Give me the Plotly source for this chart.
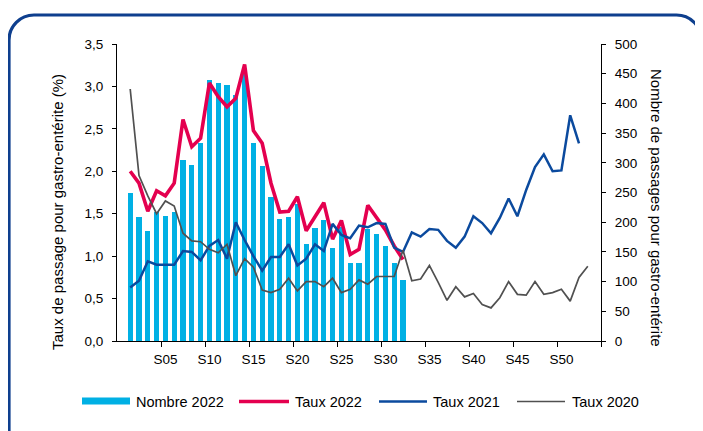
import plotly.graph_objects as go

# ---------------- data ----------------
weeks_2022 = list(range(1, 33))
nombre_2022 = [250, 209, 185, 217, 210, 218, 304, 297, 333, 440, 434, 431, 414, 455, 334, 295,
               242, 205, 208, 231, 163, 191, 203, 156, 192, 132, 132, 189, 180, 160, 132, 102]
taux_2022 = [2.00, 1.86, 1.53, 1.77, 1.71, 1.86, 2.61, 2.29, 2.39, 3.04, 2.88, 2.76, 2.86, 3.26,
             2.48, 2.33, 1.86, 1.52, 1.53, 1.70, 1.30, 1.46, 1.63, 1.20, 1.42, 1.02, 1.08, 1.60,
             1.46, 1.31, 1.12, 0.96]

weeks_2021 = list(range(1, 53))
taux_2021 = [0.63, 0.71, 0.94, 0.90, 0.90, 0.90, 1.06, 1.05, 0.95, 1.12, 1.19, 0.97, 1.40, 1.19,
             1.00, 0.83, 0.99, 0.99, 1.14, 0.89, 0.97, 1.14, 1.06, 1.38, 1.25, 1.21, 1.36, 1.34,
             1.39, 1.38, 1.10, 1.05, 1.28, 1.23, 1.32, 1.31, 1.18, 1.10, 1.23, 1.47, 1.39, 1.27,
             1.45, 1.68, 1.47, 1.78, 2.05, 2.20, 2.00, 2.01, 2.66, 2.33]

weeks_2020 = list(range(1, 54))
taux_2020 = [2.97, 1.95, 1.71, 1.50, 1.65, 1.59, 1.27, 1.18, 1.17, 1.08, 1.04, 1.14, 0.77, 0.97,
             0.87, 0.60, 0.57, 0.61, 0.74, 0.59, 0.70, 0.70, 0.64, 0.74, 0.57, 0.61, 0.72, 0.67,
             0.76, 0.76, 0.76, 1.07, 0.71, 0.73, 0.89, 0.69, 0.48, 0.64, 0.52, 0.56, 0.43, 0.39,
             0.51, 0.70, 0.55, 0.54, 0.70, 0.55, 0.57, 0.61, 0.47, 0.75, 0.88]

tick_weeks = [5, 10, 15, 20, 25, 30, 35, 40, 45, 50]
tick_labels = ["S05", "S10", "S15", "S20", "S25", "S30", "S35", "S40", "S45", "S50"]

legend_names = ["Nombre 2022", "Taux 2022", "Taux 2021", "Taux 2020"]

# ---------------- style ----------------
OFF = 8  # page body margin
W, H = 703 - OFF, 431 - OFF
# plot area in screenshot pixels
SL, SR, ST, SB = 117, 601, 44, 341
L, R, T, B = SL - OFF, SR - OFF, ST - OFF, SB - OFF
C_BAR = "#00B0E4"
C_2022 = "#E4004F"
C_2021 = "#0B4A9E"
C_2020 = "#505050"
C_FRAME = "#0E3F8E"
FONT = "Liberation Sans, Arial, sans-serif"


def px(x):
    return (x - SL) / (SR - SL)


def py(y):
    return (SB - y) / (SB - ST)


fig = go.Figure()
fig.add_trace(go.Bar(x=weeks_2022, y=nombre_2022, name=legend_names[0], marker_color=C_BAR,
                     marker_line_width=0, width=0.6, yaxis="y", showlegend=False))
fig.add_trace(go.Scatter(x=weeks_2022, y=taux_2022, name=legend_names[1], mode="lines",
                         line=dict(color=C_2022, width=3.6), yaxis="y2", showlegend=False))
fig.add_trace(go.Scatter(x=weeks_2021, y=taux_2021, name=legend_names[2], mode="lines",
                         line=dict(color=C_2021, width=2.5), yaxis="y2", showlegend=False))
fig.add_trace(go.Scatter(x=weeks_2020, y=taux_2020, name=legend_names[3], mode="lines",
                         line=dict(color=C_2020, width=1.7), yaxis="y2", showlegend=False))

tickfont = dict(family=FONT, size=13.5, color="#000000")
minor_vals = [w - 0.5 for w in tick_weeks] + [54.5]

fig.update_layout(
    width=W, height=H,
    margin=dict(l=L, r=W - R, t=T, b=H - B),
    paper_bgcolor="white", plot_bgcolor="white",
    separators=", ",
    bargap=0,
    xaxis=dict(range=[-0.5, 54.5], tickmode="array", tickvals=tick_weeks, ticktext=tick_labels,
               ticks="", showline=True, linecolor="black", linewidth=1, showgrid=False,
               zeroline=False, tickfont=tickfont, ticklabelstandoff=6,
               minor=dict(tickmode="array", tickvals=minor_vals, ticks="outside", ticklen=5,
                          tickcolor="black", showgrid=False)),
    yaxis=dict(range=[0, 500], dtick=50, side="right", showline=True, linecolor="black",
               linewidth=1, ticks="outside", ticklen=4, tickcolor="black", showgrid=False,
               zeroline=False, tickfont=tickfont, ticklabelstandoff=6),
    yaxis2=dict(range=[0, 3.5], dtick=0.5, tickformat=".1f", side="left", overlaying="y",
                showline=True, linecolor="black", linewidth=1, ticks="outside", ticklen=4,
                tickcolor="black", showgrid=False, zeroline=False, tickfont=tickfont,
                ticklabelstandoff=6),
)

annotations = []
shapes = []
titlefont = dict(family=FONT, size=15, color="#000000")
annotations.append(dict(x=px(57), y=py(212), xref="paper", yref="paper", showarrow=False,
                        text="Taux de passage pour gastro-entérite (%)", textangle=-90,
                        font=titlefont, xanchor="center", yanchor="middle"))
annotations.append(dict(x=px(656), y=py(208), xref="paper", yref="paper", showarrow=False,
                        text="Nombre de passages pour gastro-entérite", textangle=90,
                        font=titlefont, xanchor="center", yanchor="middle"))

# custom legend
legfont = dict(family=FONT, size=14.5, color="#000000")
ly = 401.5
shapes.append(dict(type="rect", xref="paper", yref="paper", x0=px(82), x1=px(130),
                   y0=py(397.5), y1=py(404.5), fillcolor=C_BAR, line_width=0))
shapes.append(dict(type="line", xref="paper", yref="paper", x0=px(239), x1=px(289),
                   y0=py(ly), y1=py(ly), line=dict(color=C_2022, width=3.6)))
shapes.append(dict(type="line", xref="paper", yref="paper", x0=px(379), x1=px(427),
                   y0=py(ly), y1=py(ly), line=dict(color=C_2021, width=2.5)))
shapes.append(dict(type="line", xref="paper", yref="paper", x0=px(517), x1=px(565),
                   y0=py(ly), y1=py(ly), line=dict(color=C_2020, width=1.7)))
for xx, name in zip([134, 293, 431, 570], legend_names):
    annotations.append(dict(x=px(xx), y=py(ly), xref="paper", yref="paper", showarrow=False,
                            text=name, font=legfont, xanchor="left", yanchor="middle"))

# rounded frame (screenshot pixel coordinates)
r = 25
k = 0.552 * r
x0f, y0f, x1f, ybot = 9, 15, 701.5, 450
pts = [
    ("M", [(x0f, ybot)]),
    ("L", [(x0f, y0f + r)]),
    ("C", [(x0f, y0f + r - k), (x0f + r - k, y0f), (x0f + r, y0f)]),
    ("L", [(x1f - r, y0f)]),
    ("C", [(x1f - r + k, y0f), (x1f, y0f + r - k), (x1f, y0f + r)]),
    ("L", [(x1f, ybot)]),
]
path = " ".join(cmd + " " + " ".join(f"{px(a):.5f},{py(b):.5f}" for a, b in p) for cmd, p in pts)
shapes.append(dict(type="path", xref="paper", yref="paper", path=path,
                   line=dict(color=C_FRAME, width=3.2)))

fig.update_layout(annotations=annotations, shapes=shapes)
fig.write_html("out.html")
